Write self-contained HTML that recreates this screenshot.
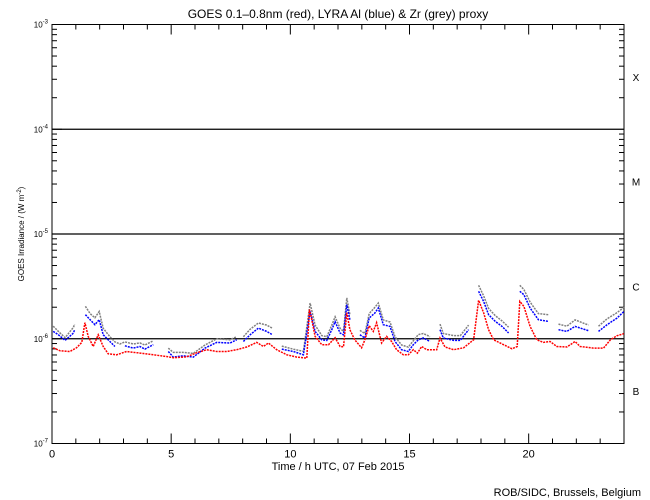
<!DOCTYPE html>
<html><head><meta charset="utf-8"><style>
body{margin:0;background:#fff;}
svg{display:block;font-family:"Liberation Sans",sans-serif;}
</style></head><body>
<svg id="chart" width="650" height="500" viewBox="0 0 650 500">
<rect width="650" height="500" fill="#fff"/>
<text x="338" y="18" font-size="12" text-anchor="middle">GOES 0.1–0.8nm (red), LYRA Al (blue) &amp; Zr (grey) proxy</text>
<text x="338" y="470" font-size="11" text-anchor="middle">Time / h UTC, 07 Feb 2015</text>
<text transform="translate(24,234) rotate(-90)" font-size="8" text-anchor="middle">GOES Irradiance / (W m<tspan dy="-3" font-size="6">-2</tspan><tspan dy="3">)</tspan></text>
<text x="641" y="496" font-size="11" text-anchor="end">ROB/SIDC, Brussels, Belgium</text>
<g id="axes"></g>
<g id="series"></g>
</svg>
<script>
const hoursRed=[0.05,0.34,0.75,1.03,1.25,1.38,1.52,1.73,1.94,2.15,2.36,2.71,3.13,3.69,4.25,4.81,5.09,5.65,6.07,6.49,6.91,7.33,7.75,8.17,8.59,8.87,9.08,9.43,9.85,10.27,10.69,10.8,10.9,11.04,11.32,11.6,11.88,12.09,12.23,12.37,12.5,12.7,12.99,13.13,13.31,13.48,13.62,13.83,14.04,14.25,14.46,14.74,14.95,15.16,15.33,15.51,15.72,16.14,16.28,16.49,16.85,17.27,17.69,17.9,18.11,18.32,18.53,18.95,19.3,19.52,19.63,19.8,20.06,20.34,20.62,20.9,21.18,21.6,21.95,22.16,22.72,23.14,23.43,23.71,23.99];
const redLog=[-6.086,-6.115,-6.122,-6.086,-6.035,-5.847,-5.978,-6.074,-5.962,-6.074,-6.144,-6.153,-6.122,-6.137,-6.153,-6.169,-6.182,-6.172,-6.134,-6.105,-6.122,-6.122,-6.105,-6.079,-6.035,-6.074,-6.041,-6.105,-6.153,-6.175,-6.185,-5.722,-5.818,-5.978,-6.057,-6.057,-5.99,-6.074,-6.077,-5.751,-5.914,-6.01,-6.086,-6.01,-5.876,-5.93,-5.847,-6.041,-5.978,-6.026,-6.105,-6.153,-6.153,-6.105,-6.137,-6.074,-6.105,-6.105,-5.993,-6.079,-6.105,-6.086,-6.01,-5.633,-5.751,-5.914,-6.01,-6.057,-6.096,-6.074,-5.643,-5.691,-5.882,-6.01,-6.035,-6.026,-6.074,-6.079,-6.026,-6.074,-6.089,-6.089,-6.01,-5.971,-5.952];
const hoursLyra=[0.05,0.27,0.55,0.9,0.95,1.2,1.4,1.6,1.8,1.98,2.15,2.43,2.64,2.85,3.06,3.41,3.69,3.9,4.25,4.6,4.88,5.09,5.51,5.93,6.42,6.91,7.47,7.75,7.9,8.03,8.31,8.66,9.01,9.25,9.45,9.64,10.13,10.55,10.83,11.04,11.32,11.53,11.74,11.88,12.09,12.23,12.37,12.5,12.7,12.92,13.13,13.31,13.55,13.69,13.9,14.18,14.39,14.67,14.95,15.16,15.37,15.58,15.86,16.1,16.28,16.42,16.85,17.13,17.48,17.7,17.9,18.11,18.32,18.6,18.88,19.16,19.4,19.63,19.8,20.06,20.41,20.83,21.05,21.25,21.6,21.95,22.51,22.7,22.93,23.29,23.71,24.0];
const blueLog=[-5.93,-5.962,-6.016,-5.945,-5.914,null,-5.77,-5.818,-5.866,-5.818,-5.962,-6.026,-6.074,null,-6.067,-6.089,-6.074,-6.099,-6.057,null,-6.122,-6.175,-6.163,-6.175,-6.089,-6.035,-6.041,-6.01,null,-6.026,-5.962,-5.898,-5.93,-5.962,null,-6.099,-6.122,-6.153,-5.739,-5.93,-6.01,-6.016,-5.914,-5.837,-5.945,-5.962,-5.675,-5.818,null,-5.962,-5.993,-5.802,-5.754,-5.706,-5.866,-5.882,-6.026,-6.105,-6.122,-6.057,-6.01,-5.993,-6.026,null,-5.914,-5.993,-6.016,-6.016,-5.914,null,-5.547,-5.643,-5.77,-5.834,-5.882,-5.945,null,-5.547,-5.579,-5.706,-5.818,-5.834,null,-5.914,-5.93,-5.882,-5.923,null,-5.93,-5.866,-5.802,-5.739];
const greyLog=[-5.88,-5.93,-5.99,-5.89,-5.86,null,-5.69,-5.76,-5.80,-5.74,-5.90,-5.98,-6.03,-6.05,-6.03,-6.05,-6.04,-6.06,-6.02,null,-6.09,-6.13,-6.13,-6.14,-6.06,-6.00,-6.01,-5.98,null,-5.98,-5.91,-5.85,-5.87,-5.90,null,-6.07,-6.10,-6.12,-5.66,-5.87,-5.97,-5.98,-5.87,-5.79,-5.90,-5.93,-5.61,-5.77,null,-5.92,-5.95,-5.76,-5.70,-5.66,-5.82,-5.84,-5.98,-6.06,-6.08,-6.02,-5.96,-5.95,-5.98,null,-5.86,-5.95,-5.97,-5.97,-5.87,null,-5.49,-5.59,-5.71,-5.78,-5.83,-5.89,null,-5.49,-5.53,-5.65,-5.76,-5.77,null,-5.86,-5.88,-5.82,-5.87,null,-5.88,-5.81,-5.75,-5.70];
const xTicks=[0,5,10,15,20];
const yDecades=[-3,-4,-5,-6,-7];
const classLabels=["X","M","C","B"];

const L=52,R=624,T=24.5,B=443.5;
const xs=h=>L+(h/24)*(R-L);
const ys=lg=>T+(-3-lg)*(B-T)/4;
const NS="http://www.w3.org/2000/svg";
const ax=document.getElementById('axes'),se=document.getElementById('series');
function mk(tag,attrs,parent){const e=document.createElementNS(NS,tag);for(const k in attrs)e.setAttribute(k,attrs[k]);parent.appendChild(e);return e;}
const frame=mk('rect',{x:L,y:T,width:R-L,height:B-T,fill:'none',stroke:'#000','stroke-width':1},ax);


for(let h=0;h<=24;h++){
  const len=xTicks.includes(h)?10:5;const x=xs(h);
  const t1=mk('line',{x1:x,y1:B,x2:x,y2:B-len,stroke:'#000'},ax);
  
  
  const t2=mk('line',{x1:x,y1:T,x2:x,y2:T+len,stroke:'#000'},ax);
  
  
}
xTicks.forEach(h=>{
  const t=mk('text',{x:xs(h),y:B+14,'font-size':11,'text-anchor':'middle'},ax);t.textContent=h;
  
  
});
yDecades.forEach((d,i)=>{
  const y=ys(d);
  if(d>-7&&d<-3){const g=mk('line',{x1:L,y1:y,x2:R,y2:y,stroke:'#000','stroke-width':1.2},ax);
    
    }
  const t=mk('text',{x:L-4,y:y+3,'font-size':8,'text-anchor':'end'},ax);
  t.innerHTML='10<tspan dy="-4" font-size="6">'+d+'</tspan>';
  
  
  if(d>-7){
    for(let m=2;m<=9;m++){
      const yy=ys(d-1+Math.log10(m));
      const a=mk('line',{x1:L,y1:yy,x2:L+5,y2:yy,stroke:'#000'},ax);
      
      
      const b=mk('line',{x1:R,y1:yy,x2:R-5,y2:yy,stroke:'#000'},ax);
      
      
    }
    const lab=mk('text',{x:636,y:ys(d-0.5)+4,'font-size':10,'text-anchor':'middle'},ax);
    lab.textContent=classLabels[i];
    
    
  }
  const a=mk('line',{x1:L,y1:y,x2:L+10,y2:y,stroke:'#000'},ax);
  
  
});
function drawSeries(hours,vals,color,name){
  let segs=[],cur=[];
  hours.forEach((h,i)=>{if(vals[i]===null){if(cur.length)segs.push(cur);cur=[];}else cur.push(xs(h).toFixed(1)+','+ys(vals[i]).toFixed(1));});
  if(cur.length)segs.push(cur);
  segs.forEach(s=>{
    const p=mk('polyline',{points:s.join(' '),fill:'none',stroke:color,'stroke-width':1.5,'stroke-dasharray':'2 1'},se);
    
    
  });
}
drawSeries(hoursLyra,greyLog,'#808080','zr-proxy-line');
drawSeries(hoursLyra,blueLog,'#0000ff','al-proxy-line');
drawSeries(hoursRed,redLog,'#ff0000','goes-line');
</script>
</body></html>
